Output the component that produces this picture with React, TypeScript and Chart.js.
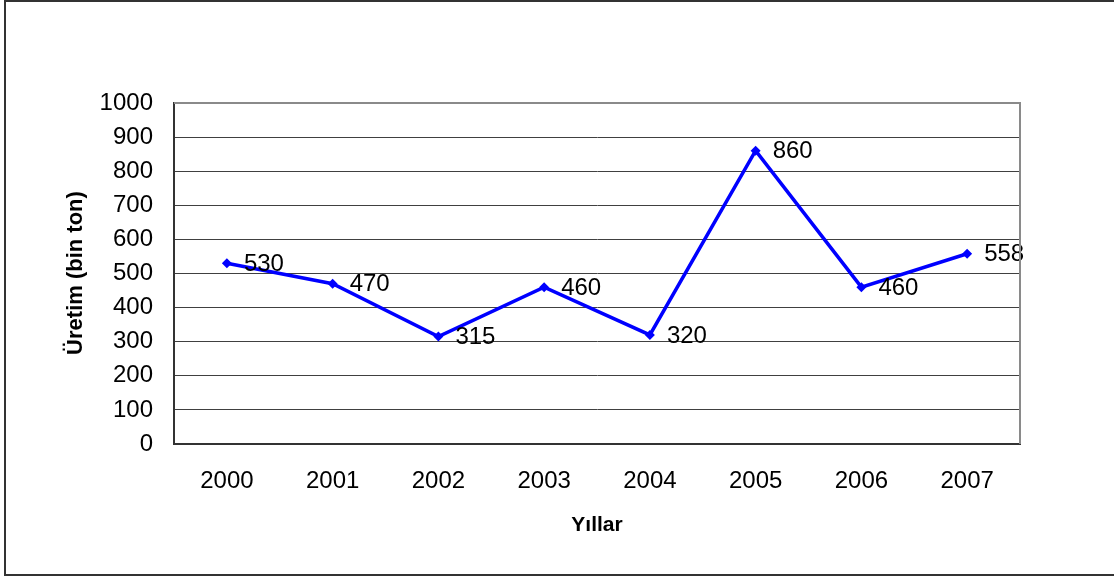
import React, { useEffect, useRef } from "react";
import { Chart, registerables } from "chart.js";

Chart.register(...registerables);

const years = ["2000", "2001", "2002", "2003", "2004", "2005", "2006", "2007"];
const production = [530, 470, 315, 460, 320, 860, 460, 558];
const yTitle = "Üretim (bin ton)";
const xTitle = "Yıllar";

const FONT = "'Liberation Sans', Arial, sans-serif";

export default function App() {
  const ref = useRef<HTMLCanvasElement | null>(null);

  useEffect(() => {
    const canvas = ref.current;
    if (!canvas) return;

    const decor = {
      id: "decor",
      beforeDraw(chart: any) {
        const ctx = chart.ctx;
        ctx.save();
        ctx.fillStyle = "#fff";
        ctx.fillRect(0, 0, chart.width, chart.height);
        ctx.restore();
      },
      afterDraw(chart: any) {
        const ctx = chart.ctx;
        const a = chart.chartArea;
        ctx.save();
        // outer frame
        ctx.strokeStyle = "#333";
        ctx.lineWidth = 2;
        ctx.beginPath();
        ctx.moveTo(1200, 1);
        ctx.lineTo(5, 1);
        ctx.lineTo(5, 575);
        ctx.lineTo(1200, 575);
        ctx.stroke();
        // plot top/right border
        ctx.strokeStyle = "#8a8a8a";
        ctx.lineWidth = 2;
        ctx.beginPath();
        ctx.moveTo(a.left, a.top);
        ctx.lineTo(a.right, a.top);
        ctx.lineTo(a.right, a.bottom);
        ctx.stroke();
        // axis titles
        ctx.fillStyle = "#000";
        ctx.font = "bold 21px " + FONT;
        ctx.textAlign = "center";
        ctx.textBaseline = "middle";
        ctx.fillText(xTitle, 597, 525);
        ctx.font = "bold 22px " + FONT;
        ctx.translate(76, 273);
        ctx.rotate(-Math.PI / 2);
        ctx.fillText(yTitle, 0, 0);
        ctx.restore();
      },
      afterDatasetsDraw(chart: any) {
        const ctx = chart.ctx;
        const meta = chart.getDatasetMeta(0);
        const data = chart.data.datasets[0].data;
        ctx.save();
        ctx.fillStyle = "#000";
        ctx.font = "24px " + FONT;
        ctx.textAlign = "left";
        ctx.textBaseline = "middle";
        meta.data.forEach((pt: any, i: number) => {
          ctx.fillText(String(data[i]), pt.x + 17, pt.y + 1);
        });
        ctx.restore();
      },
    };

    const chart = new Chart(canvas, {
      type: "line",
      data: {
        labels: years,
        datasets: [
          {
            data: production,
            borderColor: "#0000ff",
            backgroundColor: "#0000ff",
            borderWidth: 3.5,
            pointStyle: "rectRot",
            pointRadius: 5,
            pointBorderWidth: 0,
            tension: 0,
          },
        ],
      },
      options: {
        animation: false,
        responsive: false,
        maintainAspectRatio: false,
        layout: { padding: { top: 103, right: 94, left: 0, bottom: 0 } },
        plugins: { legend: { display: false }, tooltip: { enabled: false } },
        scales: {
          x: {
            offset: true,
            grid: { display: false },
            border: { display: true, color: "#333", width: 2 },
            ticks: { color: "#000", font: { family: FONT, size: 24 }, padding: 15, maxRotation: 0 },
            afterFit(scale: any) {
              scale.height = 132;
            },
          },
          y: {
            min: 0,
            max: 1000,
            ticks: {
              stepSize: 100,
              color: "#000",
              font: { family: FONT, size: 24 },
              padding: 21,
              callback: (v: any) => String(v),
            },
            grid: { color: "#404040", lineWidth: 1, drawTicks: false },
            border: { display: true, color: "#333", width: 2 },
            afterFit(scale: any) {
              scale.width = 174;
            },
          },
        },
      },
      plugins: [decor],
    });

    return () => chart.destroy();
  }, []);

  return (
    <div style={{ position: "absolute", left: 0, top: 0, width: 1114, height: 576, background: "#fff" }}>
      <canvas ref={ref} width={1114} height={576} style={{ display: "block", width: 1114, height: 576 }} />
    </div>
  );
}
